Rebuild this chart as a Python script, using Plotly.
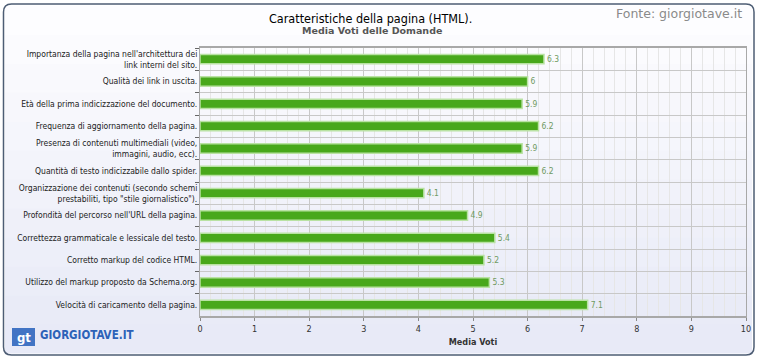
import plotly.graph_objects as go

categories = [
    "Importanza della pagina nell'architettura dei<br>link interni del sito.",
    "Qualità dei link in uscita.",
    "Età della prima indicizzazione del documento.",
    "Frequenza di aggiornamento della pagina.",
    "Presenza di contenuti multimediali (video,<br>immagini, audio, ecc).",
    "Quantità di testo indicizzabile dallo spider.",
    "Organizzazione dei contenuti (secondo schemi<br>prestabiliti, tipo \"stile giornalistico\").",
    "Profondità del percorso nell'URL della pagina.",
    "Correttezza grammaticale e lessicale del testo.",
    "Corretto markup del codice HTML.",
    "Utilizzo del markup proposto da Schema.org.",
    "Velocità di caricamento della pagina.",
]
values = [6.3, 6, 5.9, 6.2, 5.9, 6.2, 4.1, 4.9, 5.4, 5.2, 5.3, 7.1]

FONT = "DejaVu Sans Condensed, DejaVu Sans, sans-serif"
WIDE = "DejaVu Sans, sans-serif"

W, H = 760, 360
L, R, T, B = 200, 14, 48, 44
PW, PH = W - L - R, H - T - B


def px(x):
    return (x - L) / PW


def py(y):
    return (H - B - y) / PH


fig = go.Figure()
fig.add_trace(go.Bar(
    x=values, y=categories, orientation="h",
    marker=dict(color="#48a81b", line=dict(color="#b9e2a3", width=1.5)),
    width=0.42,
    text=values, texttemplate="%{x}", textposition="outside",
    textfont=dict(size=9, color="#6f9a62", family=FONT),
    cliponaxis=False,
    hoverinfo="skip",
))

shapes = []
# background frame with vertical gradient (stacked bands)
n = 12
top_c = (253, 253, 255)
bot_c = (232, 234, 247)
fy0, fy1 = 6, 353
for i in range(n):
    t = i / (n - 1)
    c = tuple(int(top_c[k] + (bot_c[k] - top_c[k]) * t) for k in range(3))
    a = fy0 + (fy1 - fy0) * i / n
    b = fy0 + (fy1 - fy0) * (i + 1) / n + 0.5
    shapes.append(dict(type="rect", xref="paper", yref="paper", x0=px(5), x1=px(752),
                       y0=py(b), y1=py(a), fillcolor="rgb(%d,%d,%d)" % c,
                       line=dict(width=0), layer="below"))
# rounded border
x0, x1, y0, y1 = px(3.5), px(754), py(355), py(4)
rx, ry = 8 / PW, 8 / PH
path = (f"M {x0+rx},{y0} L {x1-rx},{y0} Q {x1},{y0} {x1},{y0+ry} "
        f"L {x1},{y1-ry} Q {x1},{y1} {x1-rx},{y1} L {x0+rx},{y1} Q {x0},{y1} {x0},{y1-ry} "
        f"L {x0},{y0+ry} Q {x0},{y0} {x0+rx},{y0} Z")
shapes.append(dict(type="path", xref="paper", yref="paper", path=path,
                   line=dict(color="#4d5d74", width=1.5), fillcolor="rgba(0,0,0,0)", layer="above"))
# logo box
shapes.append(dict(type="rect", xref="paper", yref="paper", x0=px(12), x1=px(35), y0=py(346), y1=py(328),
                   fillcolor="#4274c4", line=dict(width=0), layer="above"))

annotations = [
    dict(text="Caratteristiche della pagina (HTML).", x=px(370), y=py(18), xref="paper", yref="paper",
         showarrow=False, font=dict(size=12.5, color="#000", family=FONT), xanchor="center", yanchor="middle"),
    dict(text="<b>Media Voti delle Domande</b>", x=px(372), y=py(31), xref="paper", yref="paper",
         showarrow=False, font=dict(size=9.5, color="#555", family=WIDE), xanchor="center", yanchor="middle"),
    dict(text="Fonte: giorgiotave.it", x=px(744), y=py(14), xref="paper", yref="paper",
         showarrow=False, font=dict(size=12.5, color="#8a8a8a", family=WIDE), xanchor="right", yanchor="middle"),
    dict(text="<b>gt</b>", x=px(23.5), y=py(337), xref="paper", yref="paper",
         showarrow=False, font=dict(size=13, color="white", family=FONT), xanchor="center", yanchor="middle"),
    dict(text="<b>GIORGIOTAVE.IT</b>", x=px(38), y=py(335), xref="paper", yref="paper",
         showarrow=False, font=dict(size=11.5, color="#2d62b8", family=FONT), xanchor="left", yanchor="middle"),
]

fig.update_layout(
    width=W, height=H,
    margin=dict(l=L, r=R, t=T, b=B, autoexpand=False),
    paper_bgcolor="white", plot_bgcolor="white",
    showlegend=False,
    font=dict(family=FONT, size=8.5, color="#222"),
    shapes=shapes, annotations=annotations,
    xaxis=dict(
        range=[0, 10], dtick=1, tick0=0,
        showgrid=True, gridcolor="#c8c8c8", gridwidth=1,
        minor=dict(dtick=0.2, showgrid=True, gridcolor="#e6e6e6"),
        ticks="outside", ticklen=3, tickcolor="#888",
        tickfont=dict(size=9, color="#333"),
        showline=True, linecolor="#a8a8a8", linewidth=2, mirror=True,
        title=dict(text="<b>Media Voti</b>", font=dict(size=9, color="#333"), standoff=6),
        zeroline=False, fixedrange=True, automargin=False,
    ),
    yaxis=dict(
        autorange="reversed", type="category",
        tickson="boundaries", showgrid=True, gridcolor="#c8c8c8",
        ticks="outside", ticklen=4, tickcolor="#666",
        tickfont=dict(size=8.5, color="#222"),
        showline=True, linecolor="#a8a8a8", linewidth=1, mirror=True,
        fixedrange=True, automargin=False,
    ),
)

fig.write_html("out.html", config={"displayModeBar": False},
               post_script="document.body.style.margin='0';document.body.style.padding='0';")
